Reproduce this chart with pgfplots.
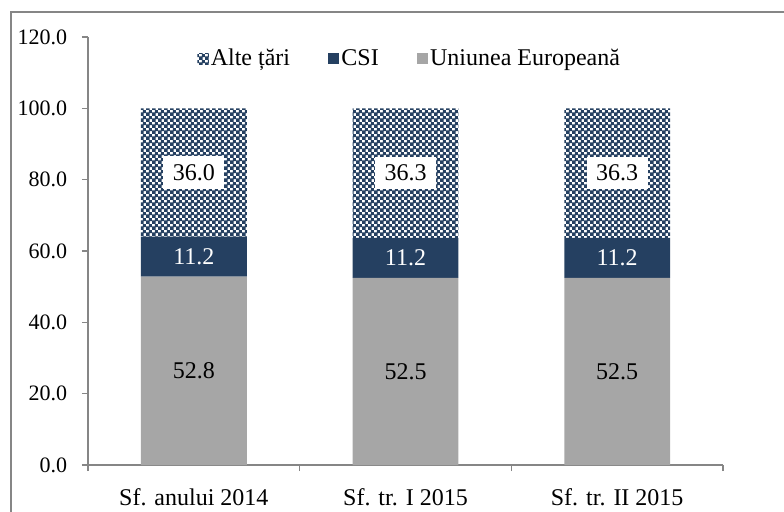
\documentclass[border=0pt]{standalone}
\usepackage{fontspec}
\setmainfont{Liberation Serif}
\usepackage{pgfplots}
\usepackage{pgfplotstable}
\pgfplotsset{compat=1.18}
\usetikzlibrary{patterns}
\definecolor{csi}{HTML}{254061}
\definecolor{eu}{HTML}{A6A6A6}
\definecolor{axgray}{HTML}{868686}
\pgfdeclarepatternformonly{mychecker}{\pgfpointorigin}{\pgfqpoint{4.4pt}{4.4pt}}{\pgfqpoint{4.4pt}{4.4pt}}{%
  \pgfpathrectangle{\pgfpointorigin}{\pgfqpoint{2.7pt}{2.7pt}}%
  \pgfpathrectangle{\pgfqpoint{2.2pt}{2.2pt}}{\pgfqpoint{2.7pt}{2.7pt}}%
  \pgfusepath{fill}}
\pgfplotstableread{
x eu csi other
0 52.8 11.2 36.0
1 52.5 11.2 36.3
2 52.5 11.2 36.3
}\datatable
\begin{document}
\fontsize{18}{21.6}\selectfont
\begin{tikzpicture}[font=\fontsize{18}{21.6}\selectfont]
\useasboundingbox (-66pt,-34.5pt) rectangle (522pt,348.75pt);
\draw[axgray, line width=0.9pt] (-57.75pt,-60pt) -- (-57.75pt,339.75pt) -- (560pt,339.75pt);
\begin{axis}[
  at={(0pt,0pt)}, anchor=south west,
  scale only axis, width=476.25pt, height=321pt,
  ybar stacked, bar width=0.5,
  xmin=-0.5, xmax=2.5, ymin=0, ymax=120,
  axis lines*=left,
  axis line style={axgray, line width=0.9pt},
  tick align=outside,
  xtick={0,1,2},
  xticklabels={Sf. anului 2014, Sf. tr. I 2015, Sf. tr. II 2015},
  minor xtick={-0.5,0.5,1.5,2.5},
  major x tick style={draw=none},
  minor tick length=4.5pt,
  major tick length=4.5pt,
  every tick/.style={axgray, line width=0.9pt},
  ytick={0,20,40,60,80,100,120},
  yticklabel style={xshift=-5pt, font=\fontsize{16.5}{20}\selectfont},
  xticklabel style={yshift=-7pt},
  /pgf/number format/.cd, fixed, fixed zerofill, precision=1, assume math mode=true,
  /pgfplots/.cd,
  legend style={at={(axis cs:1.02,113.8)}, anchor=center, draw=none, fill=none,
    /tikz/every even column/.append style={column sep=27pt},
    nodes={inner sep=1.5pt}},
  legend columns=3,
  reverse legend,
  legend image code/.code={\fill[#1] (0pt,-4pt) rectangle (8.5pt,4.5pt);},
  point meta=explicit,
]
\addplot[fill=eu, draw=none,
  nodes near coords,
  every node near coord/.append style={anchor=center, text=black}]
  table[x=x, y=eu, meta=eu] {\datatable};
\addlegendentry{Uniunea Europeană}
\addplot[fill=csi, draw=none,
  nodes near coords,
  every node near coord/.append style={anchor=center, text=white}]
  table[x=x, y=csi, meta=csi] {\datatable};
\addlegendentry{CSI}
\addplot[pattern=mychecker, pattern color=csi, draw=none,
  nodes near coords,
  every node near coord/.append style={anchor=center, text=black, fill=white, inner xsep=7pt, inner ysep=6pt}]
  table[x=x, y=other, meta=other] {\datatable};
\addlegendentry{Alte țări}
\end{axis}
\end{tikzpicture}
\end{document}
